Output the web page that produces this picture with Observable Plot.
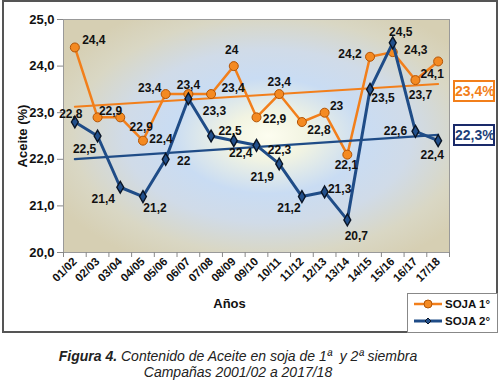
<!DOCTYPE html>
<html><head><meta charset="utf-8">
<script src="https://cdn.jsdelivr.net/npm/d3@7"></script>
<script src="https://cdn.jsdelivr.net/npm/@observablehq/plot@0.6"></script>
<style>
body{margin:0;background:#fff;font-family:"Liberation Sans",Arial,sans-serif;}
#wrap{position:relative;width:500px;height:389px;overflow:hidden;background:#fff;}
#chart{position:absolute;left:0;top:0;}
.frame{position:absolute;left:2px;top:0;width:496px;height:333px;box-sizing:border-box;border:2px solid #555;pointer-events:none;}
.pct{position:absolute;left:453px;width:42px;height:22px;box-sizing:border-box;border:2px solid;font-weight:bold;font-size:14px;text-align:center;line-height:18px;background:#fff;}
.legend{position:absolute;left:407px;top:293px;width:91px;height:40px;box-sizing:border-box;border:1px solid #888;background:#fff;font-weight:bold;font-size:11.5px;color:#111;}
.legend .row{position:absolute;left:5px;height:14px;display:flex;align-items:center;}
.legend svg{margin-right:2px;}
.caption{position:absolute;left:0;top:348px;width:476px;text-align:center;font-style:italic;font-size:14px;line-height:16px;color:#222;}
</style>
</head><body>
<div id="wrap">
  <div id="chart"></div>
  <div class="frame"></div>
  <div class="pct" id="pct1" style="top:80px;"></div>
  <div class="pct" id="pct2" style="top:124px;"></div>
  <div class="legend" id="legend"></div>
  <div class="caption"><b>Figura 4.</b> Contenido de Aceite en soja de 1ª&nbsp; y 2ª siembra<br>Campañas 2001/02 a 2017/18</div>
</div>
<script>
const years = ["01/02","02/03","03/04","04/05","05/06","06/07","07/08","08/09","09/10","10/11","11/12","12/13","13/14","14/15","15/16","16/17","17/18"];
const soja1 = [24.4,22.9,22.9,22.4,23.4,23.4,23.4,24,22.9,23.4,22.8,23,22.1,24.2,24.3,23.7,24.1];
const soja2 = [22.8,22.5,21.4,21.2,22,23.3,22.5,22.4,22.3,21.9,21.2,21.3,20.7,23.5,24.5,22.6,22.4];
const yTicks = [20,21,22,23,24,25];
const seriesNames = ["SOJA 1°","SOJA 2°"];

// label placement offsets (dx, dy) relative to each point
const labelOffset1 = [[19,-7],[13,-6],[21,10],[18,-2],[-16,-6],[0,-9],[22,-6],[-2,-16],[18,2],[0,-12],[17,8],[12,-7],[-1,11],[-20,-3],[23,-2],[5,15],[-6,13]];
const labelOffset2 = [[-4,-8],[-13,13],[-17,12],[12,12],[18,2],[26,12],[19,-5],[7,12],[23,5],[-17,13],[-13,12],[15,-3],[9,16],[13,9],[8,-11],[-20,0],[-6,14]];

const ORANGE = "#f27f1b", ORANGE_DOT = "#f48a22", ORANGE_EDGE = "#b35405";
const BLUE = "#1f4c87", BLUE_DOT = "#22508c", BLUE_EDGE = "#0a1526";

const d1 = soja1.map((v, i) => ({i, v}));
const d2 = soja2.map((v, i) => ({i, v}));
const fmt = v => String(v).replace(".", ",");
const mean = a => d3.mean(a).toFixed(1).replace(".", ",") + "%";

const textStyle = {fontSize: 12, fontWeight: "bold", fill: "#111", textAnchor: "middle", lineAnchor: "middle"};
const labels = (data, offs) => data.map((d, k) => Plot.text([d], {x: "i", y: "v", text: d => fmt(d.v), dx: offs[k][0], dy: offs[k][1], ...textStyle}));

const chart = Plot.plot({
  width: 500, height: 334,
  marginLeft: 63, marginRight: 51, marginTop: 19, marginBottom: 82,
  style: {fontFamily: '"Liberation Sans", Arial, sans-serif', background: "transparent"},
  x: {domain: [-0.5, years.length - 0.5]},
  y: {domain: [20, 25]},
  marks: [
    Plot.frame({fill: "url(#bgGrad)", stroke: "#999"}),
    Plot.axisY({ticks: yTicks, tickFormat: v => v.toFixed(1).replace(".", ","), tickSize: 6, tickPadding: 3,
      fontSize: 13, fontWeight: "bold", fill: "#111", stroke: "#888",
      label: "Aceite (%)", labelAnchor: "center", labelArrow: "none", labelOffset: 46}),
    Plot.axisX({ticks: d3.range(-0.5, years.length, 1), tickFormat: () => "", tickSize: 5, stroke: "#888", label: null}),
    Plot.axisX({ticks: d3.range(years.length), tickSize: 0, tickRotate: -45, tickPadding: 7,
      tickFormat: i => years[i], fontSize: 11.5, fontWeight: "bold", fill: "#111", label: null}),
    Plot.linearRegressionY(d1, {x: "i", y: "v", stroke: ORANGE, strokeWidth: 2, ci: 0}),
    Plot.line(d1, {x: "i", y: "v", stroke: ORANGE, strokeWidth: 2.5}),
    Plot.dot(d1, {x: "i", y: "v", r: 4.5, fill: ORANGE_DOT, stroke: ORANGE_EDGE, strokeWidth: 1}),
    Plot.linearRegressionY(d2, {x: "i", y: "v", stroke: BLUE, strokeWidth: 2.2, ci: 0}),
    Plot.line(d2, {x: "i", y: "v", stroke: BLUE, strokeWidth: 3}),
    Plot.dot(d2, {x: "i", y: "v", r: 3.6, symbol: "diamond", fill: BLUE_DOT, stroke: BLUE_EDGE, strokeWidth: 1.4}),
    ...labels(d1, labelOffset1),
    ...labels(d2, labelOffset2),
    Plot.text(["Años"], {frameAnchor: "bottom", dx: -27, dy: 55, fontSize: 13, fontWeight: "bold", fill: "#111"})
  ]
});

// plot-area background gradient
const defs = d3.select(chart).insert("defs", ":first-child");
const g = defs.append("radialGradient").attr("id", "bgGrad").attr("cx", 0.53).attr("cy", 0.5).attr("r", 0.62);
[[0, "#fdfdf0"], [0.16, "#f2f4e2"], [0.4, "#c9dcf3"], [0.6, "#d0dbe8"], [0.82, "#d9d7c4"], [1, "#d6cfb3"]]
  .forEach(([o, c]) => g.append("stop").attr("offset", o).attr("stop-color", c));

document.getElementById("chart").appendChild(chart);

const p1 = document.getElementById("pct1");
p1.textContent = mean(soja1); p1.style.color = ORANGE; p1.style.borderColor = ORANGE;
const p2 = document.getElementById("pct2");
p2.textContent = mean(soja2); p2.style.color = "#1d3f7a"; p2.style.borderColor = "#1a2a6a";

const legend = document.getElementById("legend");
const sym = [
  `<svg width="30" height="10"><line x1="1" y1="5" x2="29" y2="5" stroke="${ORANGE}" stroke-width="2.5"/><circle cx="15" cy="5" r="4" fill="${ORANGE_DOT}" stroke="${ORANGE_EDGE}"/></svg>`,
  `<svg width="30" height="10"><line x1="1" y1="5" x2="29" y2="5" stroke="${BLUE}" stroke-width="3"/><path d="M15,2 L18,5 L15,8 L12,5Z" fill="${BLUE_DOT}" stroke="${BLUE_EDGE}"/></svg>`
];
seriesNames.forEach((n, k) => {
  const row = document.createElement("div");
  row.className = "row";
  row.style.top = (3 + k * 17) + "px";
  row.innerHTML = sym[k] + "<span>" + n + "</span>";
  legend.appendChild(row);
});
</script>
</body></html>
